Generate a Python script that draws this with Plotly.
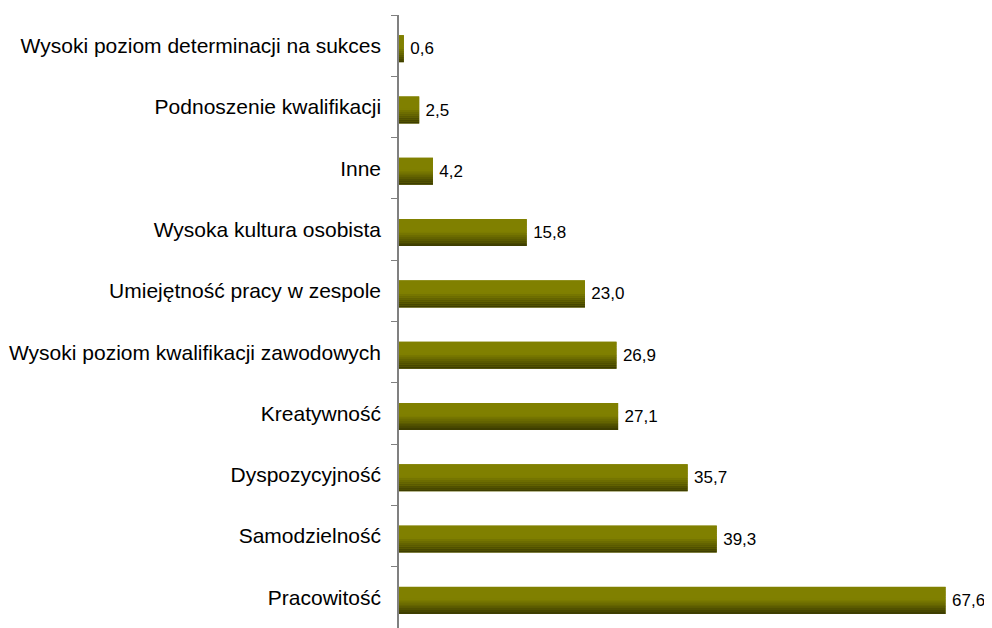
import plotly.graph_objects as go

# categories listed bottom to top
categories = [
    "Pracowitość",
    "Samodzielność",
    "Dyspozycyjność",
    "Kreatywność",
    "Wysoki poziom kwalifikacji zawodowych",
    "Umiejętność pracy w zespole",
    "Wysoka kultura osobista",
    "Inne",
    "Podnoszenie kwalifikacji",
    "Wysoki poziom determinacji na sukces",
]
values = [67.6, 39.3, 35.7, 27.1, 26.9, 23.0, 15.8, 4.2, 2.5, 0.6]
value_labels = ["\u2009" + f"{v:.1f}".replace(".", ",") for v in values]

BAR_W = 0.44
SHIFT = -0.05
TOP = (128, 128, 0)
BOTTOM = (62, 62, 0)
N_STRIPS = 14
FONT = "Liberation Sans, Arial"

fig = go.Figure()

# base bar carries the value labels
fig.add_trace(go.Bar(
    y=categories, x=values, orientation="h",
    width=BAR_W, offset=-BAR_W / 2 + SHIFT,
    marker=dict(color="rgb(128,128,0)", line=dict(width=0)),
    text=value_labels, textposition="outside", constraintext="none",
    textfont=dict(size=17, color="black", family=FONT),
    cliponaxis=False, showlegend=False, hoverinfo="skip",
))

# vertical gradient faked with thin overlaid strips
strip = BAR_W / N_STRIPS
for i in range(N_STRIPS):
    frac = i / (N_STRIPS - 1)  # 0 bottom, 1 top
    t = min(frac / 0.55, 1.0)
    c = tuple(round(BOTTOM[k] + (TOP[k] - BOTTOM[k]) * t) for k in range(3))
    fig.add_trace(go.Bar(
        y=categories, x=values, orientation="h",
        width=strip * 1.05, offset=-BAR_W / 2 + SHIFT + i * strip,
        marker=dict(color=f"rgb{c}", line=dict(width=0)),
        showlegend=False, hoverinfo="skip",
    ))

fig.update_layout(
    width=984, height=620,
    barmode="overlay",
    margin=dict(l=391, r=27, t=7, b=0),
    plot_bgcolor="white", paper_bgcolor="white",
    font=dict(family=FONT, size=21, color="black"),
    xaxis=dict(range=[0, 70], visible=False),
    yaxis=dict(
        type="category", categoryorder="array", categoryarray=categories,
        showline=True, linecolor="#808080", linewidth=1.5,
        ticks="outside", ticklen=6, tickcolor="#808080",
        tickson="boundaries", ticklabelstandoff=12,
        showgrid=False, zeroline=False,
        tickfont=dict(size=21),
    ),
)

fig.write_html("out.html")
